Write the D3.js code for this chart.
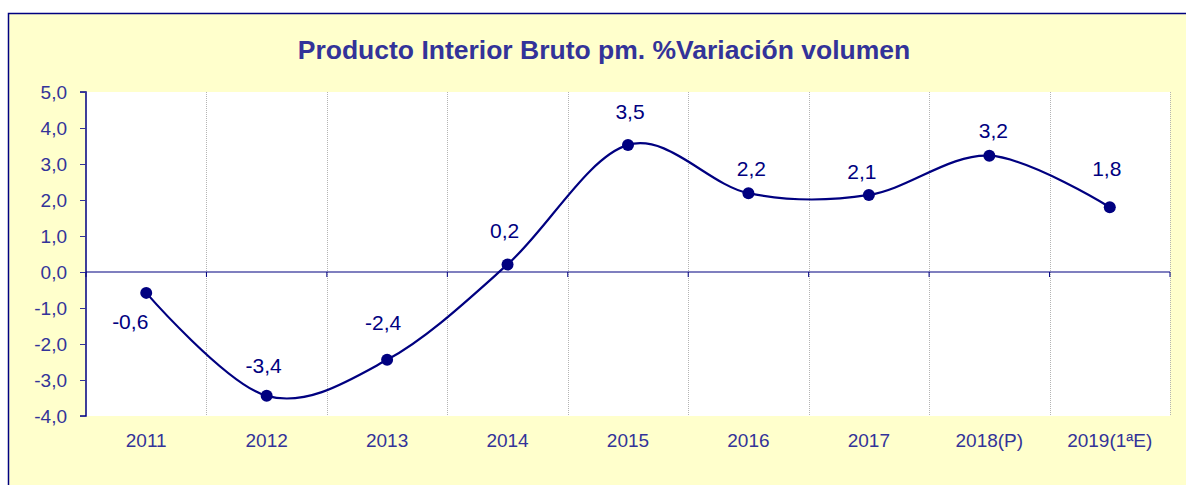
<!DOCTYPE html>
<html><head><meta charset="utf-8">
<script src="https://cdn.jsdelivr.net/npm/d3@7"></script>
<style>html,body{margin:0;padding:0;background:#fff;}svg{display:block;}</style>
</head><body>
<script>
const categories = ["2011","2012","2013","2014","2015","2016","2017","2018(P)","2019(1ªE)"];
const values = [-0.58,-3.44,-2.44,0.21,3.53,2.19,2.14,3.23,1.80];
const labels = ["-0,6","-3,4","-2,4","0,2","3,5","2,2","2,1","3,2","1,8"];
const yTicks = [5,4,3,2,1,0,-1,-2,-3,-4];
const yTickLabels = ["5,0","4,0","3,0","2,0","1,0","0,0","-1,0","-2,0","-3,0","-4,0"];
const title = "Producto Interior Bruto pm. %Variación volumen";

(function(){
const W = 1186, H = 485;
const svg = d3.select("body").append("svg").attr("width", W).attr("height", H);
const font = "Arial, 'Liberation Sans', sans-serif";

// label placement offsets (layout, px) relative to each marker
const labelDx = [-16,-3,-4,-3,2,3,-7,4,-3];
const labelDy = [29,-30.5,-37,-33.5,-33,-25,-23.5,-25,-39];

// outer frame
svg.append("rect").attr("x",8.5).attr("y",13.5).attr("width",W).attr("height",H)
  .attr("fill","#FFFFCC").attr("stroke","#000080").attr("stroke-width",1.5);

const pL = 86, pR = 1170, pT = 92, pB = 416;
const x = d3.scaleBand().domain(categories).range([pL,pR]).padding(0);
const y = d3.scaleLinear().domain([-4,5]).range([pB,pT]);

svg.append("rect").attr("x",pL).attr("y",pT).attr("width",pR-pL).attr("height",pB-pT).attr("fill","#fff");

// vertical gridlines at category boundaries
const bounds = categories.map(c => x(c) + x.bandwidth());
svg.append("g").selectAll("line").data(bounds).join("line")
  .attr("x1",d=>Math.round(d)+0.5).attr("x2",d=>Math.round(d)+0.5).attr("y1",pT).attr("y2",pB)
  .attr("stroke","#b4b4b4").attr("stroke-width",1).attr("stroke-dasharray","1,1");

// y axis
const yAxis = d3.axisLeft(y).tickValues(yTicks).tickSize(6).tickFormat((d,i) => yTickLabels[i]);
const gy = svg.append("g").attr("transform",`translate(${pL},0)`).call(yAxis);
gy.select(".domain").attr("stroke","#000080").attr("stroke-width",1.5).attr("d",`M-6,${y(5)}H0V${y(-4)}H-6`);
gy.selectAll(".tick line").attr("stroke","#333399");
gy.selectAll(".tick text").attr("fill","#333399").attr("font-family",font).attr("font-size",19).attr("x",-19);

// zero line
svg.append("line").attr("x1",pL).attr("x2",pR).attr("y1",y(0)).attr("y2",y(0))
  .attr("stroke","#000080").attr("stroke-width",1.2);
svg.append("g").selectAll("line").data([pL, ...bounds]).join("line")
  .attr("x1",d=>d).attr("x2",d=>d).attr("y1",y(0)).attr("y2",y(0)+5)
  .attr("stroke","#000080").attr("stroke-width",1);

// category labels
svg.append("g").selectAll("text").data(categories).join("text")
  .attr("x",d=>x(d)+x.bandwidth()/2).attr("y",pB+24).attr("dy","0.35em")
  .attr("text-anchor","middle").attr("fill","#333399").attr("font-family",font).attr("font-size",19)
  .text(d=>d);

// line
const pts = categories.map((c,i)=>[x(c)+x.bandwidth()/2, y(values[i])]);
svg.append("path").attr("d", d3.line().curve(d3.curveCatmullRom.alpha(0))(pts))
  .attr("fill","none").attr("stroke","#000080").attr("stroke-width",2.2);
svg.append("g").selectAll("circle").data(pts).join("circle")
  .attr("cx",d=>d[0]).attr("cy",d=>d[1]).attr("r",6).attr("fill","#000080");

// data labels
svg.append("g").selectAll("text").data(pts).join("text")
  .attr("x",(d,i)=> d[0] + labelDx[i])
  .attr("y",(d,i)=> d[1] + labelDy[i])
  .attr("dy","0.35em").attr("text-anchor","middle")
  .attr("fill","#000080").attr("font-family",font).attr("font-size",21)
  .text((d,i)=>labels[i]);

// title
svg.append("text").attr("x",604).attr("y",49.5).attr("dy","0.35em").attr("text-anchor","middle")
  .attr("fill","#333399").attr("font-family",font).attr("font-weight","bold").attr("font-size",26.5)
  .text(title);
})();
</script>
</body></html>
